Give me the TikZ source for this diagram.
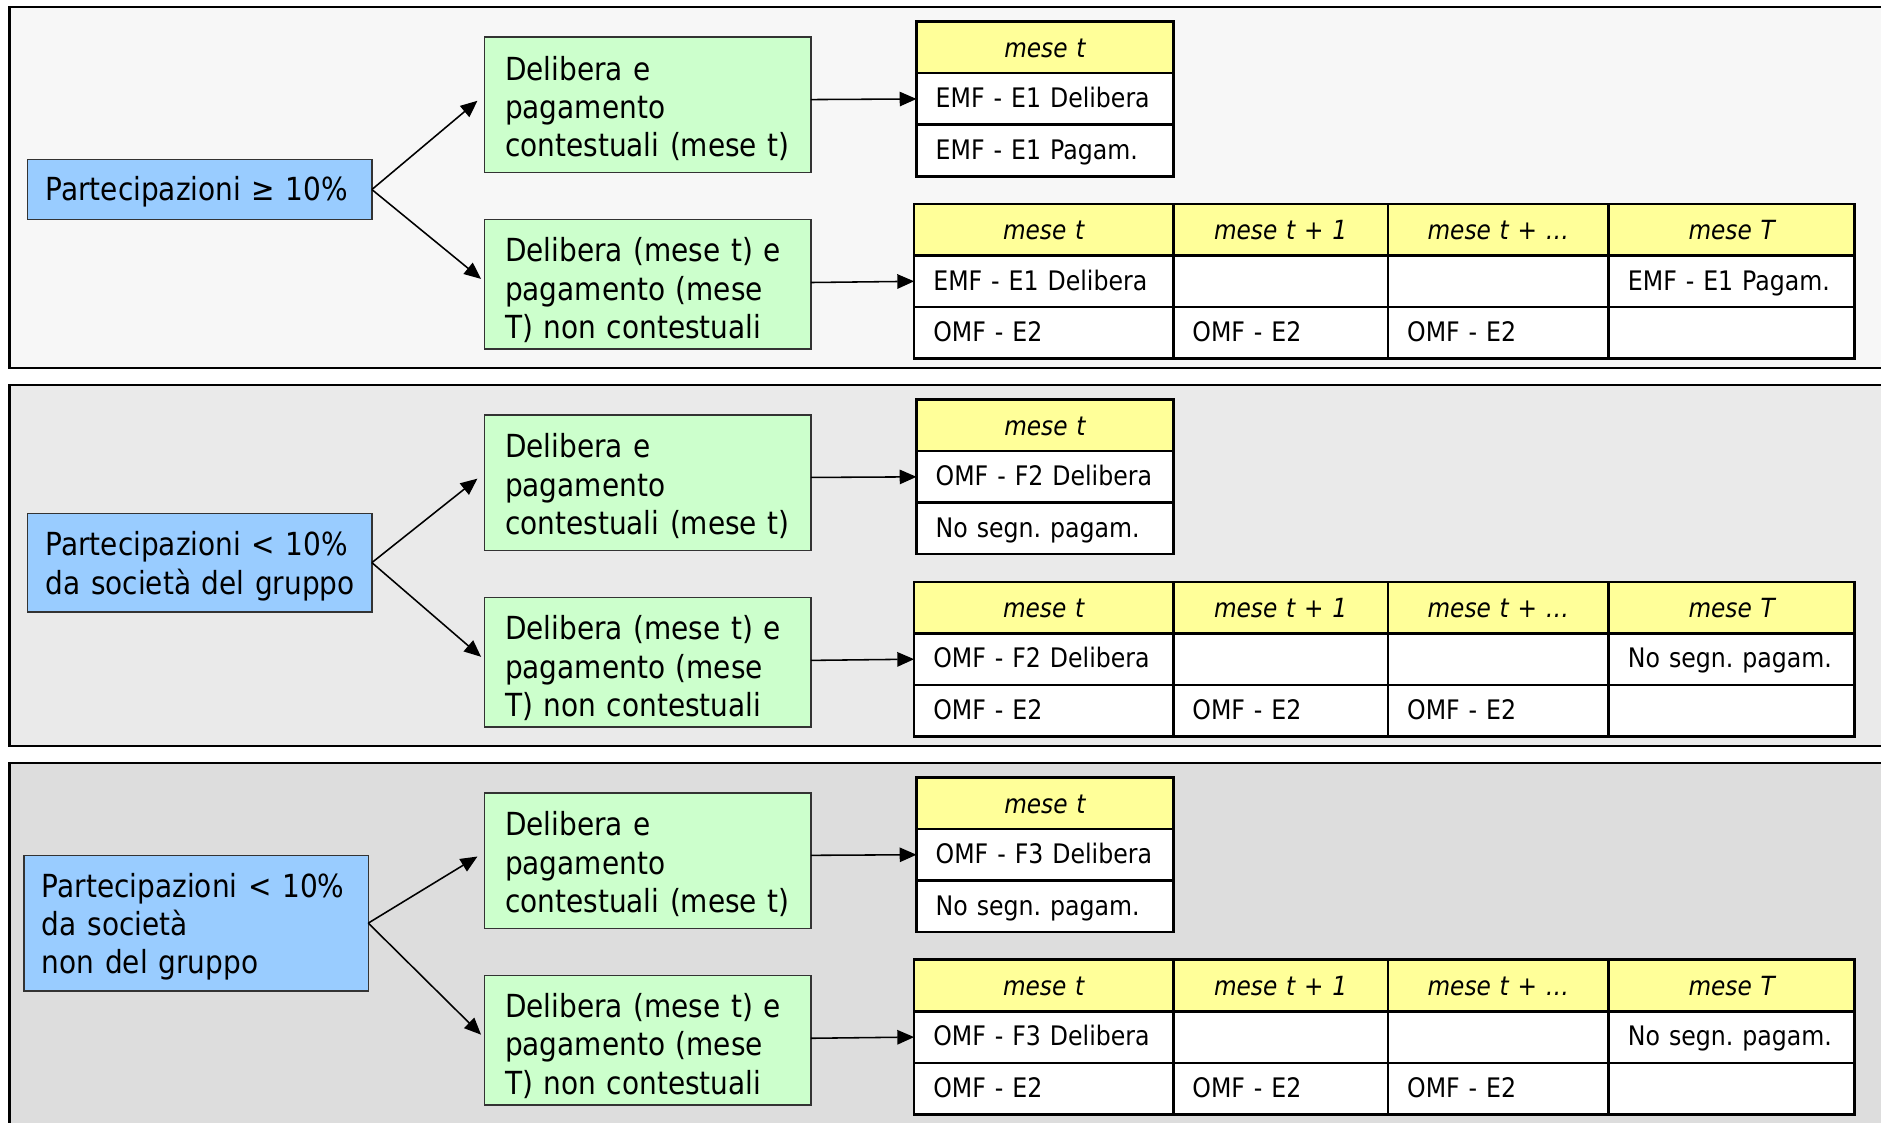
\documentclass[tikz,border=0pt]{standalone}
\usepackage{fontspec}
\setmainfont{DejaVu Sans}[FakeStretch=0.88]
\usetikzlibrary{arrows.meta,calc}
\AtBeginDocument{\frenchspacing}
\definecolor{frA}{HTML}{F7F7F7}
\definecolor{frB}{HTML}{EAEAEA}
\definecolor{frC}{HTML}{DDDDDD}
\definecolor{bblue}{HTML}{99CCFF}
\definecolor{ggreen}{HTML}{CCFFCC}
\definecolor{yhdr}{HTML}{FFFF99}
\newcommand{\toph}[1]{\rule{0pt}{#1pt}}
\begin{document}
\begin{tikzpicture}[x=1pt,y=-1pt,
  bbox/.style={draw=black!80,line width=1.2pt,fill=bblue,inner xsep=15pt,inner ysep=0pt,outer sep=0pt,
    text width=257pt,minimum width=287pt,align=left,anchor=north west,font=\fontsize{26.5}{32}\selectfont},
  gbox/.style={draw=black!80,line width=1.2pt,fill=ggreen,inner xsep=17pt,inner ysep=0pt,outer sep=0pt,
    text width=238pt,minimum width=272pt,align=left,anchor=north west,font=\fontsize{26.5}{32}\selectfont},
  hcell/.style={draw=black,line width=2.1pt,fill=yhdr,inner sep=0pt,outer sep=0pt,minimum height=43pt,
    align=center,anchor=north west,font=\fontsize{22}{26}\selectfont\itshape},
  bcell/.style={draw=black,line width=2.1pt,fill=white,inner xsep=16pt,inner ysep=0pt,outer sep=0pt,
    minimum height=43pt,align=left,anchor=north west,font=\fontsize{22.4}{26}\selectfont,
    execute at begin node={\rule[-5.5pt]{0pt}{25.5pt}}},
  arr/.style={line width=1.3pt,-{Triangle[length=14pt,width=12pt]}}]
\useasboundingbox (0,0) rectangle (1568,936);
\clip (0,0) rectangle (1568,936);
\fill[white] (0,0) rectangle (1568,936);
\foreach \s/\dy/\fc/\del/\pag/\bx/\by/\bh/\btxt in {
  1/0/frA/{EMF - E1 Delibera}/{EMF - E1 Pagam.}/23/133/50/{\toph{24}\mbox{Partecipazioni ≥ 10\%}},
  2/315/frB/{OMF - F2 Delibera}/{No segn. pagam.}/23/428/82/{\toph{26}\mbox{Partecipazioni < 10\%}\\\mbox{da società del gruppo}},
  3/630/frC/{OMF - F3 Delibera}/{No segn. pagam.}/20/713/113/{\toph{26}\mbox{Partecipazioni < 10\%}\\\mbox{da società}\\\mbox{non del gruppo}}}{
  \draw[fill=\fc,line width=2pt] (8,6+\dy) rectangle (1600,307+\dy);
  % source box
  \node[bbox,minimum height=\bh pt] (b\s) at (\bx,\by) {\btxt};
  % green boxes
  \node[gbox,minimum height=113pt] (g\s-a) at (404,31+\dy) {\toph{26}Delibera e\\pagamento\\contestuali (mese t)};
  \node[gbox,minimum height=108pt] (g\s-b) at (404,183+\dy) {\toph{30}\mbox{Delibera (mese t) e}\\pagamento (mese\\T) non contestuali};
  % small table
  \node[hcell,text width=214pt] (ta\s-h) at (764,18+\dy) {\toph{17}mese t};
  \node[bcell,text width=182pt] (ta\s-r1) at (764,61+\dy) {\mbox{\del}};
  \node[bcell,text width=182pt] (ta\s-r2) at (764,104+\dy) {\mbox{\pag}};
  % large table
  \node[hcell,text width=216pt] (tb\s-h1) at (762,170+\dy) {\toph{17}mese t};
  \node[hcell,text width=179pt] (tb\s-h2) at (978,170+\dy) {\toph{17}mese t + 1};
  \node[hcell,text width=184pt] (tb\s-h3) at (1157,170+\dy) {\toph{17}mese t + …};
  \node[hcell,text width=205pt] (tb\s-h4) at (1341,170+\dy) {\toph{17}mese T};
  \node[bcell,text width=184pt] (tb\s-r1) at (762,213+\dy) {\mbox{\del}};
  \node[bcell,text width=147pt] (tb\s-r1b) at (978,213+\dy) {};
  \node[bcell,text width=152pt] (tb\s-r1c) at (1157,213+\dy) {};
  \node[bcell,text width=173pt] (tb\s-r1d) at (1341,213+\dy) {\mbox{\pag}};
  \node[bcell,text width=184pt] (tb\s-r2) at (762,256+\dy) {OMF - E2};
  \node[bcell,text width=147pt] (tb\s-r2b) at (978,256+\dy) {OMF - E2};
  \node[bcell,text width=152pt] (tb\s-r2c) at (1157,256+\dy) {OMF - E2};
  \node[bcell,text width=173pt] (tb\s-r2d) at (1341,256+\dy) {};
  % connectors
  \draw[arr] (b\s.east) -- ($(g\s-a.west)+(-6,-3.5)$);
  \draw[arr] (b\s.east) -- ($(g\s-b.west)+(-3,-4.5)$);
  \draw[arr] ($(g\s-a.east |- ta\s-r1.west)+(0,0.5)$) -- (ta\s-r1.west);
  \draw[arr] ($(g\s-b.east |- tb\s-r1.west)+(0,1)$) -- (tb\s-r1.west);
}
\end{tikzpicture}
\end{document}
